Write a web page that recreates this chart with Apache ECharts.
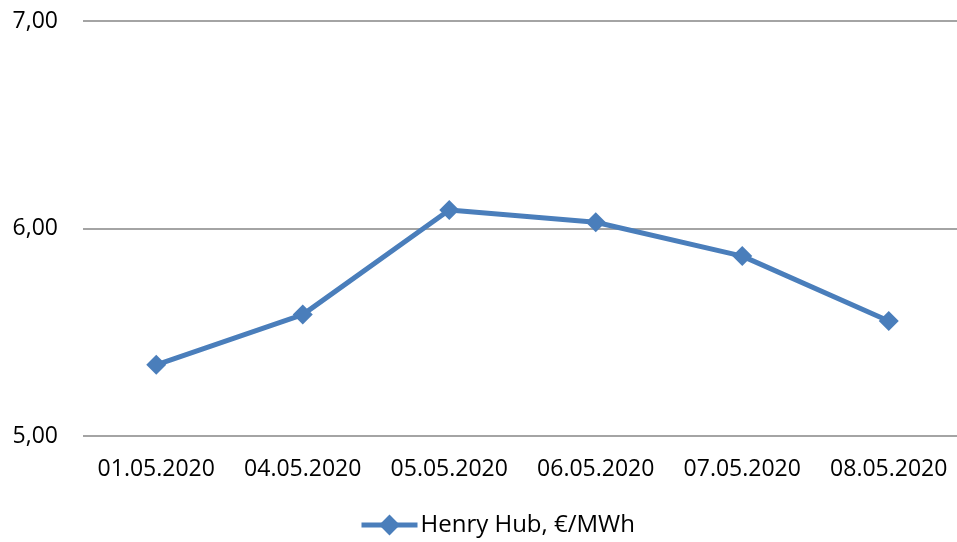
<html>
<head>
<meta charset="utf-8">
<title>Henry Hub</title>
<script src="https://cdn.jsdelivr.net/npm/echarts@6/dist/echarts.min.js"></script>
<style>
	body { margin: 0; background: #fff; }
	#container { width: 957px; height: 542px; }
</style>
</head>
<body>
	<div id="container"></div>
	<script type="text/javascript">
		var dates = ['01.05.2020', '04.05.2020', '05.05.2020', '06.05.2020', '07.05.2020', '08.05.2020'];
		var henryHub = [5.343, 5.585, 6.089, 6.030, 5.867, 5.554];
		var seriesName = 'Henry Hub, €/MWh';

		var dom = document.getElementById("container");
		var myChart = echarts.init(dom);
		var fontFamily = "'Open Sans', 'Noto Sans', sans-serif";
		var option = {
			animation: false,
			grid: {
				left: 83,
				width: 879,
				top: 21,
				bottom: 106,
				outerBoundsMode: 'none'
			},
			legend: {
				bottom: 0,
				left: 354,
				itemWidth: 56,
				itemHeight: 26,
				itemGap: 4,
				lineStyle: { width: 5 },
				textStyle: { fontFamily: fontFamily, fontSize: 24, color: '#000', padding: [0, 0, 0, -2] },
				data: [seriesName]
			},
			xAxis: {
				type: 'category',
				data: dates,
				boundaryGap: true,
				axisLine: { show: false },
				axisTick: { show: false },
				axisLabel: { color: '#000', fontFamily: fontFamily, fontSize: 23, margin: 22, interval: 0, hideOverlap: false }
			},
			yAxis: {
				type: 'value',
				min: 5,
				max: 7,
				interval: 1,
				axisLine: { show: false },
				axisTick: { show: false },
				axisLabel: {
					color: '#000',
					fontFamily: fontFamily,
					fontSize: 23,
					margin: 25,
					formatter: function (v) { return v.toFixed(2).replace('.', ','); }
				},
				splitLine: { lineStyle: { color: '#868686', width: 1.5 } }
			},
			series: [
				{
					name: seriesName,
					type: 'line',
					data: henryHub,
					symbol: 'diamond',
					symbolSize: 20,
					lineStyle: { color: '#4A7EBB', width: 5 },
					itemStyle: { color: '#4A7EBB' }
				}
			]
		};
		myChart.setOption(option);
	</script>
</body>
</html>
